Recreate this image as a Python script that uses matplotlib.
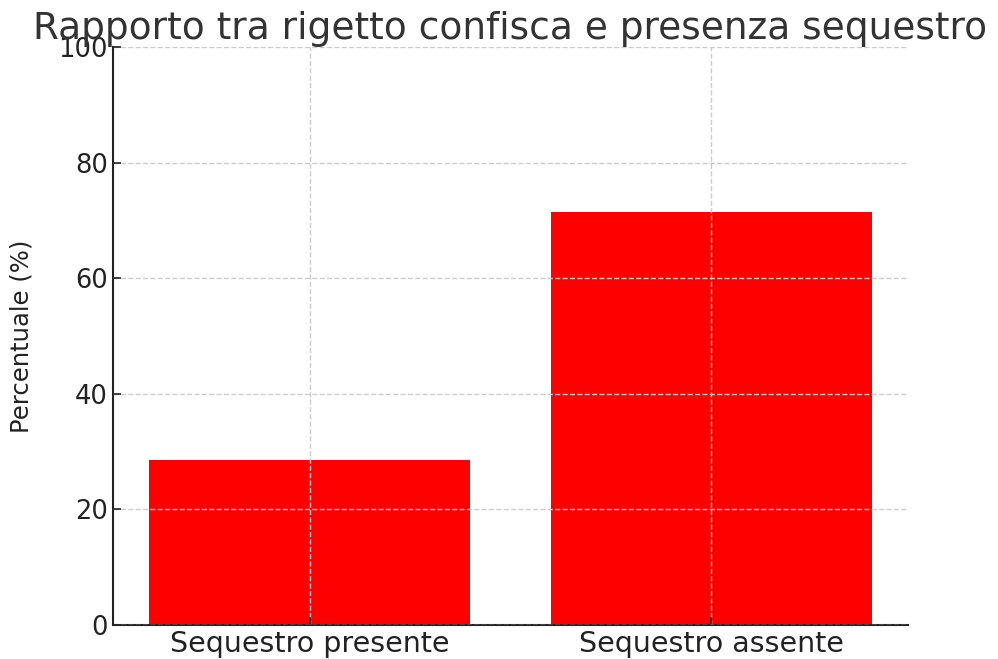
import matplotlib
matplotlib.use("Agg")
import matplotlib.pyplot as plt

# Data
categories = ["Sequestro presente", "Sequestro assente"]
percentages = [28.57, 71.43]

fig = plt.figure(figsize=(9.98, 6.59), dpi=100)
ax = fig.add_axes([0.1132, 0.0516, 0.7966, 0.8771])

ax.bar(categories, percentages, color="red", width=0.8)
ax.set_ylim(0, 100)
ax.set_yticks([0, 20, 40, 60, 80, 100])

ax.set_title("Rapporto tra rigetto confisca e presenza sequestro",
             fontsize=27, color="#333333", pad=6)
ax.set_ylabel("Percentuale (%)", fontsize=17.5, color="#222222", labelpad=18)

ax.grid(True, linestyle="--", color="#cccccc", linewidth=1)
ax.set_axisbelow(False)
ax.tick_params(direction="in", length=6, width=1.2, colors="#222222")
ax.tick_params(axis="y", labelsize=18.5)
ax.tick_params(axis="x", labelsize=20.5)
for s in ["top", "right"]:
    ax.spines[s].set_visible(False)
for s in ["left", "bottom"]:
    ax.spines[s].set_linewidth(1.5)
    ax.spines[s].set_color("#222222")

fig.savefig("out.png", dpi=100)
